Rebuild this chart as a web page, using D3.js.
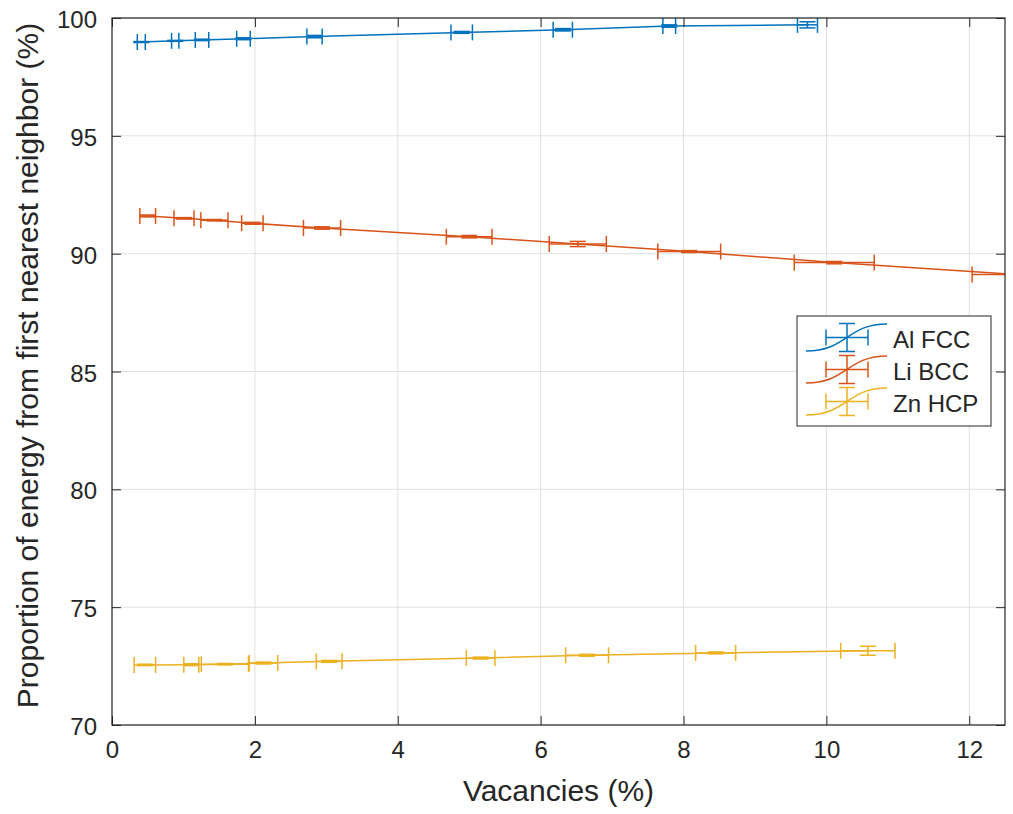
<!DOCTYPE html>
<html lang="en">
<head>
  <meta charset="UTF-8">
  <title>Vacancies vs first nearest neighbor energy</title>
  <script src="https://d3js.org/d3.v7.min.js"></script>
  <style>
    body { margin: 0; background: #fff; }
    text { font-family: "Liberation Sans", Arial, Helvetica, sans-serif; fill: #262626; }
  </style>
</head>
<body>
<div class="main"></div>
<script>
  // series values: x, y, x half-error, y half-error
  const alX    = [0.41, 0.885, 1.26, 1.84, 2.835, 4.895, 6.31, 7.80, 9.735];
  const alY    = [98.98, 99.03, 99.07, 99.12, 99.21, 99.39, 99.50, 99.66, 99.71];
  const alXErr = [0.056, 0.051, 0.094, 0.095, 0.107, 0.15, 0.135, 0.089, 0.14];
  const alYErr = [0.02, 0.02, 0.03, 0.04, 0.05, 0.04, 0.05, 0.05, 0.13];

  const liX    = [0.50, 1.008, 1.434, 1.965, 2.94, 5.0, 6.52, 8.08, 10.11, 12.62];
  const liY    = [91.60, 91.50, 91.42, 91.29, 91.09, 90.72, 90.41, 90.09, 89.62, 89.12];
  const liXErr = [0.11, 0.14, 0.19, 0.15, 0.26, 0.32, 0.40, 0.44, 0.56, 0.58];
  const liYErr = [0.04, 0.03, 0.03, 0.04, 0.05, 0.05, 0.11, 0.04, 0.05, 0.05];

  const znX    = [0.46, 1.11, 1.58, 2.12, 3.04, 5.16, 6.65, 8.45, 10.58];
  const znY    = [72.55, 72.56, 72.58, 72.63, 72.70, 72.84, 72.96, 73.06, 73.15];
  const znXErr = [0.15, 0.105, 0.33, 0.20, 0.18, 0.20, 0.30, 0.28, 0.38];
  const znYErr = [0.03, 0.04, 0.03, 0.04, 0.04, 0.04, 0.04, 0.04, 0.19];

  const seriesNames = ["Al FCC", "Li BCC", "Zn HCP"];
  const xTicks = [0, 2, 4, 6, 8, 10, 12];
  const yTicks = [70, 75, 80, 85, 90, 95, 100];

  const colors = ["#0072BD", "#D95319", "#EDB120"];
  const series = [
    {x: alX, y: alY, xe: alXErr, ye: alYErr},
    {x: liX, y: liY, xe: liXErr, ye: liYErr},
    {x: znX, y: znY, xe: znXErr, ye: znYErr}
  ].map((s, k) => ({
    name: seriesNames[k], color: colors[k],
    pts: s.x.map((v, i) => ({x: v, y: s.y[i], xe: s.xe[i], ye: s.ye[i]}))
  }));

  let width = 1013, height = 814;
  let margin = {left: 112, top: 18, right: 8, bottom: 89};
  let w = width - margin.left - margin.right;
  let h = height - margin.top - margin.bottom;
  let cap = 8;        // half cap length
  let tickLen = 9;
  let axisColor = "#262626";

  let xScale = d3.scaleLinear().domain([0, 12.5]).range([0, w]);
  let yScale = d3.scaleLinear().domain([70, 100]).range([h, 0]);

  let svg = d3.select(".main").append("svg")
      .attr("width", width).attr("height", height)
      .style("display", "block");
  svg.append("rect").attr("width", width).attr("height", height).attr("fill", "#fff");

  let g = svg.append("g").attr("transform", `translate(${margin.left},${margin.top})`);

  svg.append("defs").append("clipPath").attr("id", "plotClip")
      .append("rect").attr("x", 0).attr("y", 0).attr("width", w).attr("height", h);

  // grid
  g.append("g").selectAll("line").data(xTicks).join("line")
      .attr("x1", d => xScale(d)).attr("x2", d => xScale(d))
      .attr("y1", 0).attr("y2", h)
      .attr("stroke", "#e0e0e0").attr("stroke-width", 1);
  g.append("g").selectAll("line").data(yTicks).join("line")
      .attr("x1", 0).attr("x2", w)
      .attr("y1", d => yScale(d)).attr("y2", d => yScale(d))
      .attr("stroke", "#e0e0e0").attr("stroke-width", 1);

  // series
  let plot = g.append("g").attr("clip-path", "url(#plotClip)");
  let line = d3.line().x(d => xScale(d.x)).y(d => yScale(d.y));

  series.forEach(s => {
    let sg = plot.append("g").attr("stroke", s.color).attr("stroke-width", 1.5).attr("fill", "none");
    sg.append("path").datum(s.pts).attr("d", line);

    s.pts.forEach(p => {
      let cx = xScale(p.x), cy = yScale(p.y);
      let x0 = xScale(p.x - p.xe), x1 = xScale(p.x + p.xe);
      let y0 = yScale(p.y - p.ye), y1 = yScale(p.y + p.ye);
      // horizontal error bar
      sg.append("line").attr("x1", x0).attr("x2", x1).attr("y1", cy).attr("y2", cy);
      sg.append("line").attr("x1", x0).attr("x2", x0).attr("y1", cy - cap).attr("y2", cy + cap);
      sg.append("line").attr("x1", x1).attr("x2", x1).attr("y1", cy - cap).attr("y2", cy + cap);
      // vertical error bar
      sg.append("line").attr("x1", cx).attr("x2", cx).attr("y1", y0).attr("y2", y1);
      sg.append("line").attr("x1", cx - cap).attr("x2", cx + cap).attr("y1", y0).attr("y2", y0);
      sg.append("line").attr("x1", cx - cap).attr("x2", cx + cap).attr("y1", y1).attr("y2", y1);
    });
  });

  // axes
  function draw(axis, translate, cls) {
    let a = g.append("g").attr("class", cls).attr("transform", translate).call(axis);
    a.select(".domain").remove();
    a.selectAll("line").attr("stroke", axisColor).attr("stroke-width", 1);
    return a;
  }

  let xAxis = draw(d3.axisBottom(xScale).tickValues(xTicks).tickSizeInner(-tickLen).tickSizeOuter(0).tickPadding(16),
      `translate(0,${h})`, "xaxis");
  xAxis.selectAll("text").style("font-size", "24px").attr("fill", axisColor);

  draw(d3.axisTop(xScale).tickValues(xTicks).tickSizeInner(-tickLen).tickSizeOuter(0).tickFormat(""),
      "translate(0,0)", "xaxis2");

  let yAxis = draw(d3.axisLeft(yScale).tickValues(yTicks).tickSizeInner(-tickLen).tickSizeOuter(0).tickPadding(15),
      "translate(0,0)", "yaxis");
  yAxis.selectAll("text").style("font-size", "24px").attr("fill", axisColor).attr("dy", "0.4em");

  draw(d3.axisRight(yScale).tickValues(yTicks).tickSizeInner(-tickLen).tickSizeOuter(0).tickFormat(""),
      `translate(${w},0)`, "yaxis2");

  g.append("rect").attr("width", w).attr("height", h)
      .attr("fill", "none").attr("stroke", axisColor).attr("stroke-width", 1.2);

  // axis labels
  svg.append("text").attr("x", margin.left + w / 2).attr("y", height - 13)
      .attr("text-anchor", "middle").style("font-size", "30px")
      .text("Vacancies (%)");
  svg.append("text").attr("transform", `translate(38,${margin.top + h / 2 - 6}) rotate(-90)`)
      .attr("text-anchor", "middle").style("font-size", "30px")
      .text("Proportion of energy from first nearest neighbor (%)");

  // legend
  let lg = g.append("g").attr("transform", `translate(${w - 208},${298})`);
  lg.append("rect").attr("width", 194).attr("height", 110)
      .attr("fill", "#fff").attr("stroke", axisColor).attr("stroke-width", 1);
  series.forEach((s, i) => {
    let cy = 21.5 + i * 32, cx = 50;
    let row = lg.append("g").attr("stroke", s.color).attr("stroke-width", 1.5).attr("fill", "none");
    row.append("path").attr("d", `M9,${cy + 13.5} C50,${cy + 13.5} 50,${cy - 13.5} 90,${cy - 13.5}`);
    row.append("line").attr("x1", cx - 21).attr("x2", cx + 21).attr("y1", cy).attr("y2", cy);
    row.append("line").attr("x1", cx - 21).attr("x2", cx - 21).attr("y1", cy - 8).attr("y2", cy + 8);
    row.append("line").attr("x1", cx + 21).attr("x2", cx + 21).attr("y1", cy - 8).attr("y2", cy + 8);
    row.append("line").attr("x1", cx).attr("x2", cx).attr("y1", cy - 14).attr("y2", cy + 14);
    row.append("line").attr("x1", cx - 8).attr("x2", cx + 8).attr("y1", cy - 14).attr("y2", cy - 14);
    row.append("line").attr("x1", cx - 8).attr("x2", cx + 8).attr("y1", cy + 14).attr("y2", cy + 14);
    lg.append("text").attr("x", 96).attr("y", cy + 10).style("font-size", "24px").attr("fill", "#000")
        .text(s.name);
  });
</script>
</body>
</html>
